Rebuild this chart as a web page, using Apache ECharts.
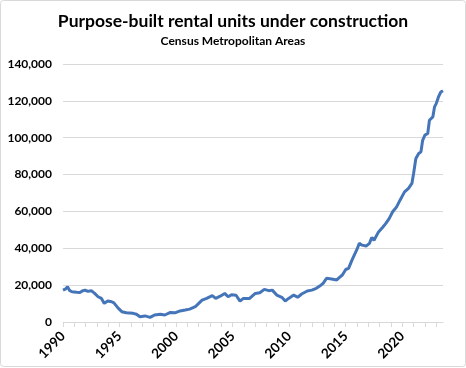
<!DOCTYPE html>
<html>
<head>
<meta charset="utf-8">
<script src="https://cdn.jsdelivr.net/npm/echarts@6/dist/echarts.min.js"></script>
<style>
html,body{margin:0;padding:0;background:#fff;}
#chart{width:466px;height:368px;}
</style>
</head>
<body>
<div id="chart"></div>
<script>
const titleText = 'Purpose-built rental units under construction';
const subtitleText = 'Census Metropolitan Areas';
const yTicks = [0, 20000, 40000, 60000, 80000, 100000, 120000, 140000];
const xLabelYears = [1990, 1995, 2000, 2005, 2010, 2015, 2020];
const dates = [
  1990.0, 1990.25, 1990.4, 1990.6, 1990.8, 1991.2, 1991.5, 1991.7, 1991.95, 1992.2,
  1992.5, 1992.8, 1993.1, 1993.4, 1993.65, 1993.95, 1994.3, 1994.5, 1994.9, 1995.2,
  1995.6, 1996.2, 1996.5, 1996.8, 1997.25, 1997.7, 1998.1, 1998.6, 1999.0, 1999.5,
  1999.9, 2000.35, 2000.8, 2001.2, 2001.7, 2002.0, 2002.3, 2002.7, 2003.2, 2003.5,
  2003.9, 2004.3, 2004.6, 2004.9, 2005.3, 2005.65, 2005.95, 2006.1, 2006.5, 2007.0,
  2007.4, 2007.8, 2008.2, 2008.5, 2008.9, 2009.35, 2009.65, 2009.95, 2010.4, 2010.75,
  2011.1, 2011.6, 2012.0, 2012.4, 2012.7, 2013.0, 2013.3, 2013.75, 2014.2, 2014.45,
  2014.7, 2015.0, 2015.25, 2015.55, 2016.0, 2016.2, 2016.45, 2016.8, 2017.1, 2017.3,
  2017.5, 2017.9, 2018.25, 2018.55, 2018.85, 2019.15, 2019.5, 2019.8, 2020.2, 2020.55,
  2020.85, 2021.0, 2021.2, 2021.45, 2021.65, 2021.8, 2022.0, 2022.25, 2022.4, 2022.7,
  2022.85, 2023.0, 2023.2, 2023.4, 2023.6
];
const units = [
  17300, 18000, 19100, 17000, 16400, 16100, 16000, 16800, 17300, 16600,
  17000, 15500, 13700, 12800, 10100, 11400, 11000, 10400, 7400, 5600,
  5000, 4700, 4200, 2900, 3300, 2500, 3800, 4200, 3800, 5200,
  5000, 6000, 6500, 7000, 8300, 10100, 11900, 12800, 14300, 12800,
  14000, 15500, 13700, 14800, 14500, 11300, 12800, 13700, 12800, 15500,
  15900, 17700, 17000, 17300, 14600, 13400, 11400, 12800, 14600, 13400,
  15200, 16800, 17300, 18300, 19500, 21000, 23700, 23300, 22800, 24200,
  25500, 28500, 29100, 33600, 39500, 42700, 41700, 41200, 42700, 45900,
  44400, 48900, 51300, 53500, 56200, 59800, 62500, 66100, 70600, 72500,
  75200, 80600, 88700, 91400, 92300, 98600, 101400, 102300, 109500, 111300,
  116700, 118500, 122100, 124800, 125500
];

const chart = echarts.init(document.getElementById('chart'));
const font = 'Lato, "Open Sans", sans-serif';
chart.setOption({
  animation: false,
  backgroundColor: '#fff',
  title: {
    text: titleText,
    subtext: subtitleText,
    left: 'center',
    top: 7,
    itemGap: 5,
    textStyle: {fontFamily: font, fontWeight: 'bold', fontSize: 17.5, color: '#000'},
    subtextStyle: {fontFamily: font, fontWeight: 'bold', fontSize: 12, color: '#000'}
  },
  graphic: [{
    type: 'rect',
    shape: {x: 0.5, y: 0.5, width: 465, height: 366, r: 3},
    style: {fill: 'none', stroke: '#d9d9d9', lineWidth: 1},
    silent: true
  }],
  grid: {left: 63, right: 23, top: 64, bottom: 46},
  xAxis: {
    type: 'value',
    min: 1990,
    max: 2023.6,
    interval: 1,
    axisLine: {show: true, lineStyle: {color: '#d9d9d9', width: 1}},
    axisTick: {show: true, length: 5, lineStyle: {color: '#d9d9d9'}},
    splitLine: {show: false},
    axisLabel: {
      rotate: 45,
      margin: 12,
      showMaxLabel: false,
      fontFamily: font, fontWeight: 'bold', fontSize: 13.5, color: '#000',
      formatter: v => xLabelYears.includes(Math.round(v * 1000) / 1000) ? String(v) : ''
    }
  },
  yAxis: {
    type: 'value',
    min: yTicks[0],
    max: yTicks[yTicks.length - 1],
    interval: 20000,
    axisLine: {show: false},
    axisTick: {show: false},
    splitLine: {lineStyle: {color: '#d9d9d9', width: 1}},
    axisLabel: {
      margin: 11,
      fontFamily: font, fontWeight: 'bold', fontSize: 12, color: '#000',
      formatter: v => v.toLocaleString('en-US')
    }
  },
  series: [{
    type: 'line',
    data: dates.map((d, i) => [d, units[i]]),
    showSymbol: false,
    symbol: 'none',
    lineStyle: {color: '#4575b9', width: 3},
    z: 3
  }]
});
</script>
</body>
</html>
